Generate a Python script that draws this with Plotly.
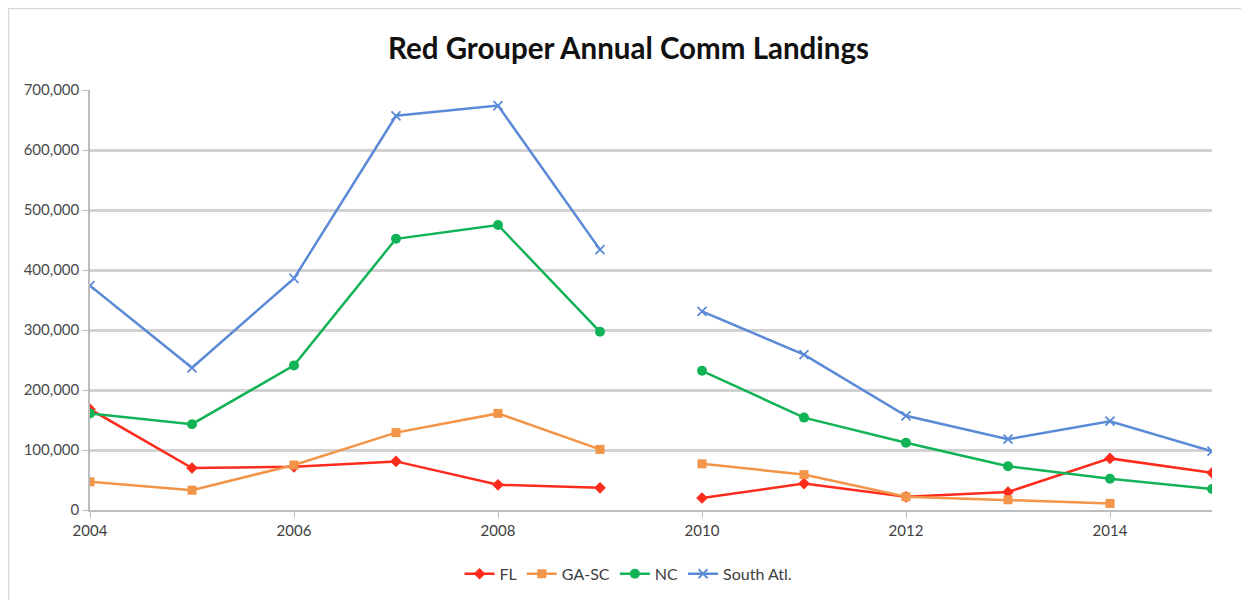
import plotly.graph_objects as go

years = [2004, 2005, 2006, 2007, 2008, 2009, 2010, 2011, 2012, 2013, 2014, 2015]
fl = [168000, 70000, 72000, 81000, 42000, 37000, 20000, 44000, 22000, 30000, 86000, 62000]
ga_sc = [47000, 33000, 75000, 129000, 161000, 101000, 77000, 59000, 22000, 17000, 11000, None]
nc = [161000, 143000, 241000, 452000, 475000, 297000, 232000, 154000, 112000, 73000, 52000, 35000]
south_atl = [374000, 237000, 386000, 657000, 674000, 434000, 331000, 259000, 157000, 118000, 148000, 98000]

series = [
    ("FL", fl, "#ff2b1c", dict(symbol="diamond", size=9)),
    ("GA-SC", ga_sc, "#f29548", dict(symbol="square", size=9)),
    ("NC", nc, "#12b356", dict(symbol="circle", size=10)),
    ("South Atl.", south_atl, "#5b8ad6", dict(symbol="x-thin-open", size=9, line=dict(width=1.8))),
]

# the source draws the years before and after the 2009/2010 break as separate segments
segments = [(0, 6), (6, 12)]

fig = go.Figure()
for name, vals, color, mk in series:
    for i, (a, b) in enumerate(segments):
        m = dict(mk)
        m["color"] = color
        if "line" in m:
            m["line"] = dict(m["line"], color=color)
        fig.add_trace(go.Scatter(
            x=years[a:b], y=vals[a:b], name=name, mode="lines+markers",
            line=dict(color=color, width=2.5), marker=m,
            legendgroup=name, showlegend=(i == 0),
        ))

font_family = "Lato, 'Open Sans', sans-serif"

# page body has an 8px margin, so the figure is sized to fill the rest of the window
fig.update_layout(
    width=1241, height=592,
    margin=dict(l=82, r=37, t=82, b=90, autoexpand=False),
    paper_bgcolor="white", plot_bgcolor="white",
    font=dict(family=font_family, size=15, color="#4a4a4a"),
    title=dict(text="<b>Red Grouper Annual Comm Landings</b>", x=0.5, xref="container",
               y=0.932, yref="container", xanchor="center", yanchor="middle",
               font=dict(size=29.5, color="#111111", family=font_family)),
    legend=dict(orientation="h", x=0.48, xanchor="center", y=-0.152, yanchor="middle",
                font=dict(size=16, color="#404040"), traceorder="normal"),
    xaxis=dict(range=[2004, 2015], tickvals=[2004, 2006, 2008, 2010, 2012, 2014],
               showgrid=False, zeroline=False, showline=True, linecolor="#bdbdbd", linewidth=1.5,
               ticks="outside", ticklen=6, tickcolor="#bdbdbd", tickfont=dict(size=15, color="#404040")),
    yaxis=dict(range=[0, 700000], dtick=100000, tickformat=",", showgrid=True,
               gridcolor="#d2d2d2", gridwidth=2.5, zeroline=False, showline=True,
               linecolor="#bdbdbd", linewidth=1.5, ticks="outside", ticklen=6, tickcolor="#bdbdbd",
               tickfont=dict(size=15, color="#4a4a4a")),
    shapes=[dict(type="rect", xref="paper", yref="paper", x0=-0.0731, x1=1.2, y0=-0.4, y1=1.195,
                 line=dict(color="#d6d6d6", width=2.5), fillcolor="rgba(0,0,0,0)", layer="below")],
)

fig.write_html("out.html")
